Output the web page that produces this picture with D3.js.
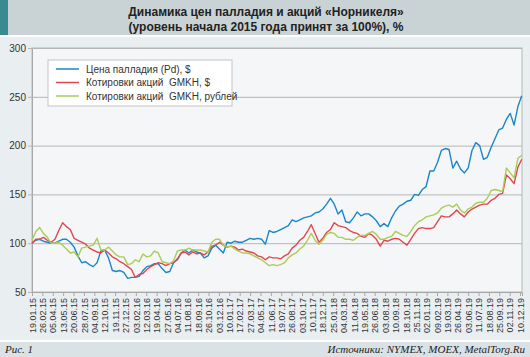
<!DOCTYPE html>
<html><head><meta charset="utf-8">
<script src="https://cdn.jsdelivr.net/npm/d3@7"></script>
<style>html,body{margin:0;padding:0;background:#e9eef1;}svg{display:block;}</style>
</head><body><svg id="c" width="530" height="357"></svg>
<script>
// ---- data ----
const titleLines = ["Динамика цен палладия и акций «Норникеля»", "(уровень начала 2015 года принят за 100%), %"];
const seriesNames = ["Цена палладия (Pd), $", "Котировки акций  GMKH, $", "Котировки акций  GMKH, рублей"];
const startDate = "19.01.15";   // first observation
const stepDays = 14;            // observations every two weeks
const domainEnd = "17.12.19";
const xTickLabels = ["19.01.15","26.02.15","05.04.15","13.05.15","20.06.15","28.07.15","04.09.15","12.10.15","19.11.15","27.12.15","03.02.16","12.03.16","19.04.16","27.05.16","04.07.16","11.08.16","18.09.16","26.10.16","03.12.16","10.01.17","17.02.17","27.03.17","04.05.17","11.06.17","19.07.17","26.08.17","03.10.17","10.11.17","18.12.17","25.01.18","04.03.18","11.04.18","19.05.18","26.06.18","03.08.18","10.09.18","18.10.18","25.11.18","02.01.19","09.02.19","19.03.19","26.04.19","03.06.19","11.07.19","18.08.19","25.09.19","02.11.19","10.12.19"];
const yTicks = [50, 100, 150, 200, 250, 300];
const palladium = [100,103,104,102,101,100,100,102,104,104,101,96,87,80,81,78,76,80,92,93,85,72,71,72,70,64,65,65,66,72,76,77,79,79,74,70,71,80,83,90,93,90,93,91,90,85,87,95,98,94,90,101,100,102,101,101,103,105,104,105,104,99,113,111,112,114,116,118,124,122,124,126,127,128,131,132,135,140,146,140,130,134,122,121,126,132,128,130,130,127,123,117,120,117,126,133,138,140,143,144,150,149,155,158,174,174,183,195,197,196,177,184,176,172,177,195,203,200,186,188,198,207,216,218,227,233,221,240,251];
const gmkhUsd = [100,104,104,106,103,101,104,113,121,117,114,105,103,101,99,95,93,91,90,93,90,86,84,81,79,76,73,65,68,69,73,76,78,80,79,77,79,80,84,90,91,88,91,89,90,88,91,97,98,101,98,96,97,96,93,94,92,91,90,87,86,83,86,85,85,84,87,89,95,98,103,106,112,119,110,101,105,111,114,121,118,117,116,113,111,110,107,106,110,108,104,97,103,102,104,105,104,101,98,104,110,115,116,115,115,116,122,128,127,127,130,134,130,127,132,135,137,139,140,140,144,146,150,151,170,166,161,178,186];
const gmkhRub = [103,112,116,110,106,100,100,101,98,94,90,91,86,95,96,97,98,105,93,93,96,92,88,86,86,78,79,83,81,89,86,87,92,90,81,80,79,82,92,93,93,95,93,93,93,92,91,101,104,104,98,96,97,94,92,90,90,89,87,85,83,80,77,78,77,78,80,85,88,90,94,97,103,110,103,99,103,109,111,110,106,106,104,104,103,106,108,108,110,112,109,104,104,106,107,112,110,108,107,112,118,122,124,127,128,129,131,136,138,139,137,140,134,131,135,137,141,142,142,146,154,155,154,153,177,172,167,187,190];
const colors = ["#1b87c9", "#e0474e", "#a9cd55"];
const footLeft = "Рис. 1";
const footRight = "Источники: NYMEX, MOEX, MetalTorg.Ru";

// ---- drawing ----
const svg = d3.select("#c");
const W = 530, H = 357;
const parse = d3.timeParse("%d.%m.%y");
const t0 = parse(startDate);
const makeDates = n => d3.range(n).map(i => d3.timeDay.offset(t0, i * stepDays));
const series = [palladium, gmkhUsd, gmkhRub].map(vals => {
  const ds = makeDates(vals.length);
  return vals.map((v, i) => ({date: ds[i], value: v}));
});

const m = {left: 32, right: 522, top: 48, bottom: 292};
const x = d3.scaleTime().domain([t0, parse(domainEnd)]).range([m.left, m.right]);
const y = d3.scaleLinear().domain([50, 300]).range([m.bottom, m.top]);

// backgrounds
svg.append("rect").attr("x",0).attr("y",0).attr("width",W).attr("height",H).attr("fill","#e9eef1");
svg.append("rect").attr("x",0).attr("y",0).attr("width",W).attr("height",35).attr("fill","#c9d3d6");
svg.append("rect").attr("x",0).attr("y",0).attr("width",8).attr("height",35).attr("fill","#3b8a8f");
svg.append("rect").attr("x",0).attr("y",35).attr("width",W).attr("height",2).attr("fill","#ffffff");
svg.append("rect").attr("x",0).attr("y",340).attr("width",W).attr("height",2).attr("fill","#ffffff");
svg.append("rect").attr("x",0).attr("y",342).attr("width",W).attr("height",15).attr("fill","#dbe2e5");

// title
svg.append("g").selectAll("text").data(titleLines).join("text")
  .attr("x", 266).attr("y", (d,i) => 16 + i*15)
  .attr("text-anchor","middle")
  .attr("font-family","'Liberation Sans', Arial, sans-serif")
  .attr("font-weight","bold").attr("font-size","12px").attr("fill","#222")
  .text(d => d);

// plot bg
svg.append("rect").attr("x",m.left).attr("y",m.top).attr("width",m.right-m.left).attr("height",m.bottom-m.top)
  .attr("fill","#f4f6f8").attr("stroke","#b8b8b8").attr("stroke-width",1);

// y axis with gridlines
const yAxis = d3.axisLeft(y).tickValues(yTicks).tickSize(-(m.right-m.left)).tickPadding(6);
const gy = svg.append("g").attr("transform",`translate(${m.left},0)`).call(yAxis);
gy.select(".domain").attr("stroke","#a8a8a8");
gy.selectAll(".tick line").attr("stroke","#b5b5b5").attr("x1",-4);
gy.selectAll(".tick text").attr("font-family","'Liberation Sans', Arial, sans-serif").attr("font-size","10px").attr("fill","#333").attr("x",-6);

// x axis
const xAxis = d3.axisBottom(x).tickValues(xTickLabels.map(parse)).tickFormat(d3.timeFormat("%d.%m.%y")).tickSize(4).tickPadding(3);
const gx = svg.append("g").attr("transform",`translate(0,${m.bottom})`).call(xAxis);
gx.select(".domain").attr("stroke","#a8a8a8");
gx.selectAll(".tick line").attr("stroke","#a8a8a8");
gx.selectAll(".tick text")
  .attr("font-family","'Liberation Sans', Arial, sans-serif").attr("font-size","9px").attr("fill","#333")
  .attr("transform","rotate(-90)").attr("text-anchor","end").attr("x",-6).attr("y",0).attr("dy","0.35em");

// lines
const line = d3.line().x(d => x(d.date)).y(d => y(d.value));
svg.append("g").selectAll("path").data(series).join("path")
  .attr("d", line).attr("fill","none")
  .attr("stroke",(d,i) => colors[i]).attr("stroke-width",1.4).attr("stroke-linejoin","round");

// legend
const lg = svg.append("g");
lg.append("rect").attr("x",48).attr("y",60).attr("width",184).attr("height",46).attr("fill","#ffffff").attr("stroke","#c4c4c4");
const items = lg.selectAll("g").data(seriesNames).join("g").attr("transform",(d,i)=>`translate(0,${69 + i*13.5})`);
items.append("line").attr("x1",56).attr("x2",79).attr("y1",0).attr("y2",0).attr("stroke",(d,i)=>colors[i]).attr("stroke-width",1.5);
items.append("text").attr("x",86).attr("y",0).attr("dy","0.35em")
  .attr("font-family","'Liberation Sans', Arial, sans-serif").attr("font-size","10px").attr("fill","#333")
  .style("white-space","pre")
  .text(d => d);

// footer
svg.append("text").attr("x",5).attr("y",353).attr("font-family","'Liberation Serif', 'Times New Roman', serif")
  .attr("font-style","italic").attr("font-size","11px").attr("fill","#222").text(footLeft);
svg.append("text").attr("x",525).attr("y",353).attr("text-anchor","end").attr("font-family","'Liberation Serif', 'Times New Roman', serif")
  .attr("font-style","italic").attr("font-size","11px").attr("fill","#222").text(footRight);
</script></body></html>
